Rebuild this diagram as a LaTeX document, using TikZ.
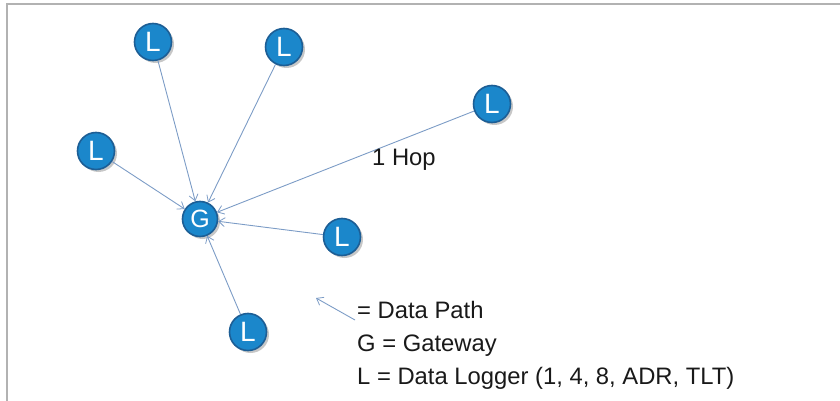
\documentclass[tikz,border=0pt]{standalone}
\usepackage{fontspec}
\setmainfont{Liberation Sans}
\usetikzlibrary{arrows.meta,shadows}
\definecolor{nodeblue}{HTML}{1B87CB}
\definecolor{nodeedge}{HTML}{1D5E95}
\definecolor{pathcol}{HTML}{7C9CC6}
\definecolor{framecol}{HTML}{B2B2B2}
\tikzset{
  unit/.style={circle, minimum size=37pt, inner sep=0pt, fill=nodeblue, draw=nodeedge, line width=1.6pt,
    text=white, font=\fontsize{28}{28}\selectfont,
    drop shadow={shadow xshift=2.5pt, shadow yshift=-2.5pt, opacity=0.22, fill=black}},
  gate/.style={unit, minimum size=35pt, font=\fontsize{25}{25}\selectfont},
  datapath/.style={draw=pathcol, line width=0.9pt, -{Straight Barb[length=6pt,width=9pt,line width=0.8pt]}},
  legend/.style={anchor=base west, inner sep=0pt, font=\fontsize{23.8}{23.8}\selectfont, text=black!90}
}
\begin{document}
\begin{tikzpicture}[x=1pt,y=-1pt]
\useasboundingbox (0,0) rectangle (840,401);
\draw[framecol, line width=2pt] (7,401) -- (7,4) -- (840,4);
\node[unit] (l1) at (153,42) {L};
\node[unit] (l2) at (284,47) {L};
\node[unit] (l3) at (492,104) {L};
\node[unit] (l4) at (96,151) {L};
\node[gate] (g) at (200,219) {G};
\node[unit] (l5) at (342,237) {L};
\node[unit] (l6) at (248,332) {L};
\foreach \n in {l1,l2,l3,l4,l5,l6} \draw[datapath] (\n) -- (g);
\node[legend] (hop) at (372,165) {1 Hop};
\coordinate (lt) at (355,320);
\coordinate (lh) at (316,298);
\draw[datapath] (lt) -- (lh);
\node[legend] (t1) at (357,318) {= Data Path};
\node[legend] (t2) at (357,351) {G = Gateway};
\node[legend] (t3) at (357,384) {L = Data Logger (1, 4, 8, ADR, TLT)};
\end{tikzpicture}
\end{document}
